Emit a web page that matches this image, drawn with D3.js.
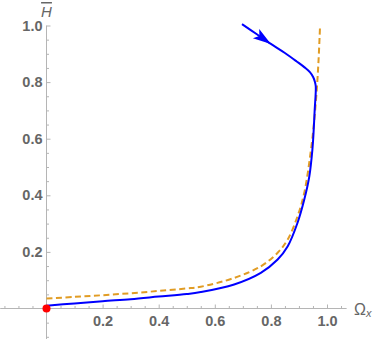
<!DOCTYPE html>
<html>
<head>
<meta charset="utf-8">
<script src="https://cdn.jsdelivr.net/npm/d3@7"></script>
<style>
  body { margin: 0; background: #fff; }
  svg { display: block; }
  .tick text { font-family: "Liberation Sans", Arial, sans-serif; font-weight: bold; font-size: 14.5px; fill: #666; }
</style>
</head>
<body>
<svg width="374" height="339"></svg>
<script>
// blue trajectory, in direction of travel
const blueX = [0.697, 0.75, 0.80, 0.85, 0.892, 0.92, 0.939, 0.951, 0.957, 0.960, 0.956, 0.952, 0.948, 0.937, 0.919, 0.895, 0.86, 0.824, 0.764, 0.669, 0.55, 0.5, 0.4, 0.3, 0.2, 0.1, 0.0];
const blueH = [1.005, 0.969, 0.935, 0.903, 0.873, 0.852, 0.835, 0.817, 0.800, 0.784, 0.70, 0.62, 0.562, 0.467, 0.385, 0.303, 0.22, 0.173, 0.126, 0.085, 0.058, 0.051, 0.042, 0.033, 0.026, 0.018, 0.01];

// orange dashed curve
const orangeX = [0, 0.1, 0.2, 0.3, 0.4, 0.5, 0.55, 0.669, 0.764, 0.824, 0.86, 0.895, 0.919, 0.943, 0.955, 0.964, 0.97, 0.975];
const orangeH = [0.035, 0.041, 0.047, 0.054, 0.062, 0.071, 0.077, 0.108, 0.149, 0.197, 0.244, 0.326, 0.409, 0.562, 0.67, 0.78, 0.88, 0.993];

// fixed point
const pointX = [0];
const pointH = [0];

const majorTicks = [0.2, 0.4, 0.6, 0.8, 1.0];
const xAxisExtent = [-0.165, 1.07];
const yAxisExtent = [-0.11, 1.0];

const svg = d3.select('svg');

const x = d3.scaleLinear().domain([0, 1]).range([46.5, 327]);
const y = d3.scaleLinear().domain([0, 1]).range([308.5, 25.5]);

const minorX = d3.range(-15, 22).map((i) => i * 0.05).filter((v) => Math.abs(v * 5 - Math.round(v * 5)) > 1e-6);
const minorY = d3.range(-2, 21).map((i) => i * 0.05).filter((v) => Math.abs(v * 5 - Math.round(v * 5)) > 1e-6);

const axisColor = '#b5b5b5';

// axis lines
svg.append('line')
	.attr('x1', x(xAxisExtent[0])).attr('x2', x(xAxisExtent[1]))
	.attr('y1', y(0)).attr('y2', y(0))
	.attr('stroke', axisColor).attr('stroke-width', 1);
svg.append('line')
	.attr('x1', x(0)).attr('x2', x(0))
	.attr('y1', y(yAxisExtent[0])).attr('y2', y(yAxisExtent[1]))
	.attr('stroke', axisColor).attr('stroke-width', 1);

// x ticks
const gx = svg.append('g').attr('transform', `translate(0, ${y(0)})`)
	.call(d3.axisBottom(x).tickValues(majorTicks).tickFormat(d3.format('.1f')).tickSizeInner(-4).tickSizeOuter(0).tickPadding(7.5));
const gxm = svg.append('g').attr('transform', `translate(0, ${y(0)})`)
	.call(d3.axisBottom(x).tickValues(minorX).tickFormat('').tickSizeInner(-2.5).tickSizeOuter(0));

// y ticks
const gy = svg.append('g').attr('transform', `translate(${x(0)}, 0)`)
	.call(d3.axisLeft(y).tickValues(majorTicks).tickFormat(d3.format('.1f')).tickSizeInner(-4).tickSizeOuter(0).tickPadding(4));
const gym = svg.append('g').attr('transform', `translate(${x(0)}, 0)`)
	.call(d3.axisLeft(y).tickValues(minorY).tickFormat('').tickSizeInner(-2.5).tickSizeOuter(0));

[gx, gxm, gy, gym].forEach((g) => {
	g.select('.domain').remove();
	g.selectAll('.tick line').attr('stroke', axisColor);
});

// axis labels
svg.append('text')
	.attr('x', x(0))
	.attr('y', 17)
	.attr('text-anchor', 'middle')
	.attr('font-family', 'Liberation Sans, Arial, sans-serif')
	.attr('font-style', 'italic')
	.attr('font-size', 15)
	.attr('fill', '#666')
	.attr('text-decoration', 'overline')
	.text('H');

const oLab = svg.append('text')
	.attr('x', 354)
	.attr('y', 315)
	.attr('font-family', 'Liberation Sans, Arial, sans-serif')
	.attr('font-size', 16)
	.attr('fill', '#666');
oLab.append('tspan').text('Ω');
oLab.append('tspan').attr('font-size', 11).attr('font-style', 'italic').attr('dy', 2).text('x');

// curves
const orangeData = orangeX.map((v, i) => [v, orangeH[i]]);
const blueData = blueX.map((v, i) => [v, blueH[i]]);

const line = d3.line().x((d) => x(d[0])).y((d) => y(d[1])).curve(d3.curveCatmullRom.alpha(0.5));

svg.append('path')
	.datum(orangeData)
	.attr('d', line)
	.attr('fill', 'none')
	.attr('stroke', '#e19c24')
	.attr('stroke-width', 2)
	.attr('stroke-dasharray', '6,3.5');

svg.append('path')
	.datum(blueData)
	.attr('d', line)
	.attr('fill', 'none')
	.attr('stroke', '#0000ff')
	.attr('stroke-width', 2);

// arrowhead on blue curve
const a = blueData[1], b = blueData[2];
const tx = x(b[0]), ty = y(b[1]);
const ang = Math.atan2(y(b[1]) - y(a[1]), x(b[0]) - x(a[0]));
const len = 18, hw = 5.6, notch = 4;
const ux = Math.cos(ang), uy = Math.sin(ang);
const bx = tx - ux * len, by = ty - uy * len;
const arrowPts = [
	[tx, ty],
	[bx - uy * hw, by + ux * hw],
	[bx + ux * notch, by + uy * notch],
	[bx + uy * hw, by - ux * hw]
];
svg.append('path')
	.attr('d', 'M' + arrowPts.map((p) => p.join(',')).join('L') + 'Z')
	.attr('fill', '#0000ff');

// red point
svg.selectAll('circle.pt')
	.data(pointX.map((v, i) => [v, pointH[i]]))
	.enter()
	.append('circle')
	.attr('class', 'pt')
	.attr('cx', (d) => x(d[0]))
	.attr('cy', (d) => y(d[1]))
	.attr('r', 4)
	.attr('fill', '#ff0000');
</script>
</body>
</html>
